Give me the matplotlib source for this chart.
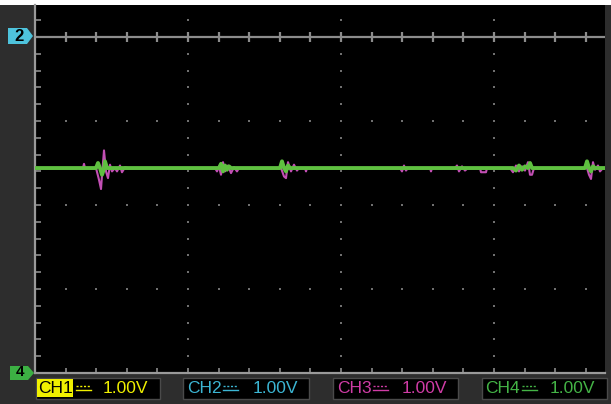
import matplotlib.pyplot as plt
from matplotlib.patches import Rectangle, Polygon
from matplotlib.lines import Line2D
import numpy as np

W, H = 611, 404

# captured traces: sample index (1 sample = 1 screen column) and level in divisions
ch4_t = [0, 61, 63, 65, 67, 69, 70, 72,
         184, 186, 188, 190, 192, 194, 196,
         245, 247, 249, 251, 253, 255,
         478, 481, 484, 487, 490, 493, 495, 497,
         550, 552, 554, 556, 558, 560, 570]
ch4_v = [2.44, 2.44, 2.50, 2.44, 2.36, 2.43, 2.52, 2.44,
         2.44, 2.49, 2.40, 2.47, 2.42, 2.46, 2.44,
         2.44, 2.52, 2.44, 2.40, 2.47, 2.44,
         2.44, 2.41, 2.47, 2.42, 2.46, 2.44, 2.50, 2.44,
         2.44, 2.52, 2.44, 2.40, 2.46, 2.44, 2.44]

ch3_t = [0, 48, 49, 50,
         61, 64, 66, 67, 69, 71, 73, 75, 77, 80, 82, 85, 87, 90, 93,
         180, 182, 184, 186, 188, 190, 193, 196, 199, 202, 204,
         246, 249, 251, 253, 256, 259, 262, 264,
         270, 271, 272,
         365, 367, 369, 371, 373,
         395, 396, 397,
         420, 422, 424, 427, 430, 433,
         445, 446, 451, 452,
         475, 478, 481, 484, 487, 490, 493, 495, 497, 499,
         552, 554, 556, 558, 560, 563, 565, 568, 570]
ch3_v = [2.44, 2.44, 2.49, 2.44,
         2.44, 2.30, 2.19, 2.35, 2.65, 2.40, 2.32, 2.48, 2.40, 2.44, 2.40, 2.47, 2.39, 2.45, 2.44,
         2.44, 2.40, 2.46, 2.36, 2.51, 2.40, 2.47, 2.38, 2.45, 2.40, 2.44,
         2.44, 2.34, 2.32, 2.51, 2.40, 2.48, 2.41, 2.44,
         2.44, 2.40, 2.44,
         2.44, 2.40, 2.47, 2.41, 2.44,
         2.44, 2.40, 2.44,
         2.44, 2.47, 2.40, 2.46, 2.41, 2.44,
         2.44, 2.39, 2.39, 2.44,
         2.44, 2.39, 2.47, 2.40, 2.46, 2.41, 2.51, 2.36, 2.36, 2.44,
         2.44, 2.36, 2.31, 2.51, 2.42, 2.47, 2.40, 2.44, 2.44]

channels = ["CH1", "CH2", "CH3", "CH4"]
scales = ["1.00V", "1.00V", "1.00V", "1.00V"]
chan_colors = ["#f0f000", "#3cb6d4", "#d03ca6", "#44b446"]

SAMPLES_PER_DIV = 153
MINOR = SAMPLES_PER_DIV / 5
X_SPAN = 570
Y_SPAN = 368 / 84


def fx(px):
    return px / W


def fy(py):
    return 1 - py / H


fig = plt.figure(figsize=(W / 100, H / 100), dpi=100, facecolor="white")
fig.patches.append(Rectangle((fx(0), 0), 1, fy(5), transform=fig.transFigure,
                             facecolor="#2d2d2d", edgecolor="none", zorder=-1))

ax = fig.add_axes([fx(35), fy(373), fx(605) - fx(35), fy(5) - fy(373)])
ax.set_zorder(1)
ax.set_facecolor("black")
ax.set_xlim(0, X_SPAN)
ax.set_ylim(0, Y_SPAN)
ax.set_xticks([])
ax.set_yticks([])
for s in ["top", "right"]:
    ax.spines[s].set_visible(False)
for s in ["left", "bottom"]:
    ax.spines[s].set_color("#9a9a9a")
    ax.spines[s].set_linewidth(1.6)

# dotted graticule
dot_kw = dict(marker="s", s=2.2, color="#707070", linewidths=0, zorder=1)
ys = np.arange(0.2, Y_SPAN, 0.2)
for xv in [SAMPLES_PER_DIV, 2 * SAMPLES_PER_DIV, 3 * SAMPLES_PER_DIV]:
    ax.scatter(np.full(len(ys), xv), ys, **dot_kw)
xs = np.arange(MINOR, X_SPAN, MINOR)
for yv in [1, 2, 3]:
    ax.scatter(xs, np.full(len(xs), yv), **dot_kw)

# channel 2 reference line with crossing ticks
ax.axhline(4, color="#8c8c8c", lw=1.6, zorder=2)
ax.vlines(xs, 4 - 0.065, 4 + 0.065, color="#8c8c8c", lw=1.6, zorder=2)
# edge ticks
ax.hlines(ys, 0, 6, color="#8c8c8c", lw=1.2, zorder=2)
ax.vlines(xs, 0, 0.06, color="#8c8c8c", lw=1.2, zorder=2)

ax.plot(ch3_t, ch3_v, color="#c24fb4", lw=1.5, zorder=3)
ax.plot(ch4_t, ch4_v, color="#5fc040", lw=2.8, zorder=4)

# channel level markers
mk2 = [(8, 28), (27, 28), (33, 36), (27, 44), (8, 44)]
fig.patches.append(Polygon([(fx(a), fy(b)) for a, b in mk2], closed=True,
                           transform=fig.transFigure, facecolor="#4ec3dc",
                           edgecolor="none", zorder=5))
fig.text(fx(19), fy(36.5), "2", color="black", fontsize=12, fontweight="bold",
         ha="center", va="center", family="Liberation Sans", zorder=6)
mk4 = [(10, 366), (28, 366), (34, 373), (28, 380), (10, 380)]
fig.patches.append(Polygon([(fx(a), fy(b)) for a, b in mk4], closed=True,
                           transform=fig.transFigure, facecolor="#3cb043",
                           edgecolor="none", zorder=5))
fig.text(fx(20), fy(372), "4", color="black", fontsize=11, fontweight="bold",
         ha="center", va="center", family="Liberation Sans", zorder=6)

# channel status bar
boxes = [(36, 160), (183, 309), (333, 458), (482, 607)]
label_x = [38, 187, 337, 485]
sym_x = [76, 223, 373, 522]
val_x = [103, 253, 402, 550]
for i, (x0, x1) in enumerate(boxes):
    fig.patches.append(Rectangle((fx(x0), fy(399)), fx(x1) - fx(x0), fy(378) - fy(399),
                                 transform=fig.transFigure, facecolor="black",
                                 edgecolor="#4a4a4a", lw=1, zorder=5))
    col = chan_colors[i]
    if i == 0:
        fig.patches.append(Rectangle((fx(37), fy(397)), fx(73) - fx(37), fy(379) - fy(397),
                                     transform=fig.transFigure, facecolor=col,
                                     edgecolor="none", zorder=6))
        lab_col = "black"
    else:
        lab_col = col
    fig.text(fx(label_x[i]), fy(388.5), channels[i], color=lab_col, fontsize=12.5,
             ha="left", va="center", family="Liberation Sans", zorder=7)
    s0, s1 = fx(sym_x[i]), fx(sym_x[i] + 15)
    fig.lines.append(Line2D([s0, s1], [fy(385.5), fy(385.5)], transform=fig.transFigure,
                            color=col, lw=1, linestyle=(0, (1.5, 1.2)), zorder=7))
    fig.lines.append(Line2D([s0, s1], [fy(389.5), fy(389.5)], transform=fig.transFigure,
                            color=col, lw=1, zorder=7))
    fig.text(fx(val_x[i]), fy(388.5), scales[i], color=col, fontsize=12.5,
             ha="left", va="center", family="Liberation Sans", zorder=7)

fig.savefig("out.png", dpi=100, facecolor=fig.get_facecolor())
